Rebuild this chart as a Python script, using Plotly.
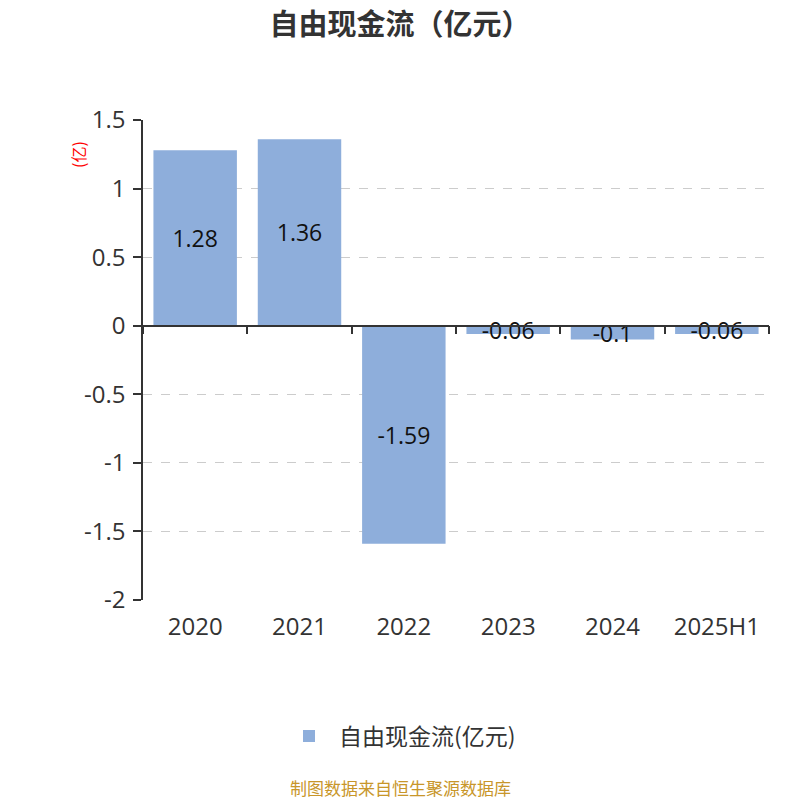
import plotly.graph_objects as go

categories = ["2020", "2021", "2022", "2023", "2024", "2025H1"]
values = [1.28, 1.36, -1.59, -0.06, -0.1, -0.06]
labels = ["1.28", "1.36", "-1.59", "-0.06", "-0.1", "-0.06"]
series_name = "自由现金流(亿元)"
y_ticks = [1.5, 1, 0.5, 0, -0.5, -1, -1.5, -2]
y_tick_text = ["1.5", "1", "0.5", "0", "-0.5", "-1", "-1.5", "-2"]

FONT = "Open Sans, Noto Sans CJK SC"
CJK = "Noto Sans CJK SC"
BAR = "#8eaedb"
YMIN, YMAX = -2, 1.5

fig = go.Figure()
fig.add_trace(go.Bar(
    x=categories, y=values, name=series_name,
    marker=dict(color=BAR, line=dict(width=0)),
    text=labels, textposition="inside", insidetextanchor="middle",
    textfont=dict(size=23, color="#111", family=FONT),
    textangle=0, cliponaxis=False,
))
# carrier for the zero-line category axis (invisible)
fig.add_trace(go.Scatter(
    x=categories, y=[0] * len(categories), xaxis="x2", mode="lines",
    line=dict(width=0, color="rgba(0,0,0,0)"), showlegend=False, hoverinfo="skip",
))

zero_pos = (0 - YMIN) / (YMAX - YMIN)

fig.update_layout(
    width=800, height=800,
    paper_bgcolor="white", plot_bgcolor="white",
    margin=dict(l=143, r=31, t=120, b=200, autoexpand=False),
    bargap=0.2,
    title=dict(text="<b>自由现金流（亿元）</b>", x=0.5, xanchor="center",
               y=0.969, yanchor="middle",
               font=dict(size=29, color="#333", family=CJK)),
    uniformtext=dict(mode="show", minsize=23),
    showlegend=True,
    legend=dict(orientation="h", xref="container", x=0.5, xanchor="center",
                yref="container", y=0.08, yanchor="middle",
                itemwidth=50,
                font=dict(size=23, color="#333", family=CJK)),
    xaxis=dict(type="category", categoryorder="array", categoryarray=categories,
               range=[-0.5, 5.5], showline=False, ticks="", showgrid=False,
               tickfont=dict(size=24, color="#333", family=FONT),
               ticklabelstandoff=10),
    xaxis2=dict(type="category", categoryorder="array", categoryarray=categories,
                range=[-0.5, 5.5], overlaying="x", anchor="free", position=zero_pos,
                side="bottom", showline=True, linecolor="#333", linewidth=1.5,
                ticks="outside", tickson="boundaries", ticklen=8, tickcolor="#333",
                tickwidth=1.5, showticklabels=False, showgrid=False, zeroline=False),
    yaxis=dict(range=[YMIN, YMAX], tickvals=y_ticks, ticktext=y_tick_text,
               showline=True, linecolor="#333", linewidth=1.5,
               ticks="outside", ticklen=8, tickcolor="#333", tickwidth=1.5,
               showgrid=True, gridcolor="#cccccc", griddash="dash", gridwidth=1.2,
               zeroline=False, ticklabelstandoff=3,
               tickfont=dict(size=24, color="#333", family=FONT)),
)

fig.add_annotation(text="(亿)", xref="paper", yref="paper",
                   x=(78 - 143) / 626, xanchor="center",
                   y=1 - (155 - 120) / 480, yanchor="middle",
                   textangle=-90, showarrow=False,
                   font=dict(size=16, color="red", family=CJK))
# footer centred on the page: page centre 400 -> paper x = (400-143)/626
fig.add_annotation(text="制图数据来自恒生聚源数据库", xref="paper", yref="paper",
                   x=(400 - 143) / 626, xanchor="center", y=-0.39, yanchor="middle",
                   showarrow=False,
                   font=dict(size=17, color="#c8962a", family=CJK))

fig.write_html("out.html", config={"displayModeBar": False},
               post_script="document.body.style.margin='0';")
